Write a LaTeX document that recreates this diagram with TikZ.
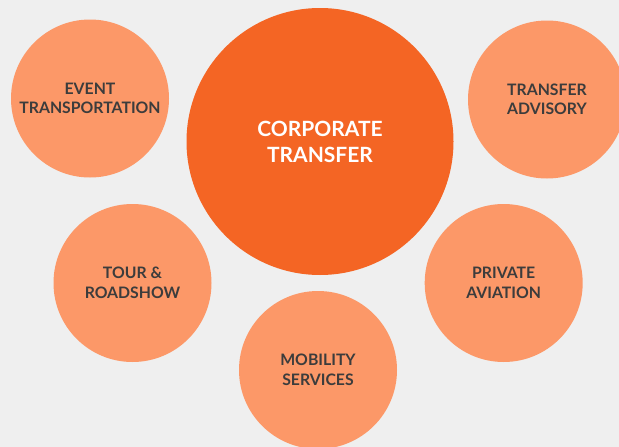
\documentclass[tikz,border=0pt]{standalone}
\usepackage{fontspec}
\setmainfont{Lato}
\definecolor{bgc}{HTML}{EFEFEF}
\definecolor{maincirc}{HTML}{F46524}
\definecolor{subcirc}{HTML}{FC9868}
\definecolor{txtc}{HTML}{3C3C3C}
\tikzset{
  subnode/.style={circle, fill=subcirc, minimum size=158pt, inner sep=0pt, align=center,
    text=txtc, font=\fontsize{15.8}{19.5}\selectfont\bfseries},
  mainnode/.style={circle, fill=maincirc, minimum size=267pt, inner sep=0pt, align=center,
    text=white, font=\fontsize{21}{26}\selectfont\bfseries}
}
\begin{document}
\begin{tikzpicture}[x=1pt,y=-1pt]
\useasboundingbox (0,0) rectangle (619,447);
\fill[bgc] (0,0) rectangle (619,447);
\begin{scope}
\clip (0,0) rectangle (619,447);
\node[mainnode] (corp) at (320,141.5) {CORPORATE\\TRANSFER};
\node[subnode] (event) at (90,98.5) {EVENT\\TRANSPORTATION};
\node[subnode] (advis) at (547,99.5) {TRANSFER\\ADVISORY};
\node[subnode] (tour) at (132.5,283) {TOUR \&\\ROADSHOW};
\node[subnode] (priv) at (503.7,283) {PRIVATE\\AVIATION};
\node[subnode] (mob) at (318,370) {MOBILITY\\SERVICES};
\end{scope}
\end{tikzpicture}
\end{document}
